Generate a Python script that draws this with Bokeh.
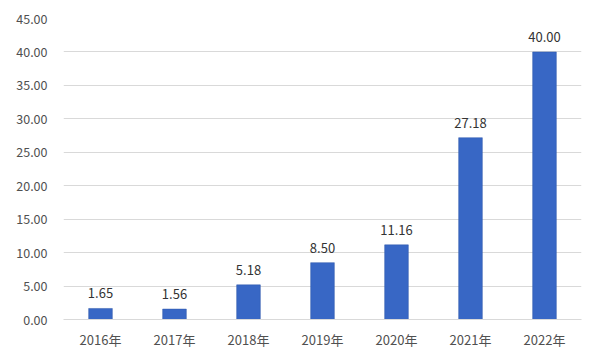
from bokeh.plotting import figure
from bokeh.models import ColumnDataSource, FactorRange, Range1d, FixedTicker, NumeralTickFormatter
from bokeh.core.properties import value
from bokeh.embed import file_html
from bokeh.resources import INLINE

years = ["2016年", "2017年", "2018年", "2019年", "2020年", "2021年", "2022年"]
amounts = [1.65, 1.56, 5.18, 8.50, 11.16, 27.18, 40.00]
y_ticks = [0, 5, 10, 15, 20, 25, 30, 35, 40, 45]

FONT = "Noto Sans CJK SC"

src = ColumnDataSource(dict(x=years, top=amounts, lbl=[f"{v:.2f}" for v in amounts]))

p = figure(width=600, height=360, output_backend="svg", toolbar_location=None,
           x_range=FactorRange(factors=years), y_range=Range1d(0, 45),
           min_border_left=63, min_border_right=19, min_border_top=18, min_border_bottom=41)
p.outline_line_color = None
p.background_fill_color = "white"
p.border_fill_color = "white"
p.styles = {"outline": "1px solid #E2E2E2", "outline-offset": "-3px"}

p.vbar(x="x", top="top", width=0.32, source=src, fill_color="#3867C5", line_color="#2F58AA", line_width=0.5)
p.text(x="x", y="top", text="lbl", source=src, text_align="center", text_baseline="bottom",
       y_offset=-10, text_font=value(FONT), text_font_size="13px", text_color="#333333")

p.xgrid.grid_line_color = None
p.ygrid.grid_line_color = "#D9D9D9"
p.ygrid.grid_line_width = 1

p.yaxis.ticker = FixedTicker(ticks=y_ticks)
p.yaxis.formatter = NumeralTickFormatter(format="0.00")
for ax in (p.xaxis[0], p.yaxis[0]):
    ax.axis_line_color = None
    ax.major_tick_line_color = None
    ax.minor_tick_line_color = None
    ax.major_tick_out = 0
    ax.major_tick_in = 0
    ax.minor_tick_out = 0
    ax.major_label_text_font = FONT
    ax.major_label_text_color = "#505050"
p.xaxis.major_label_text_font_size = "13px"
p.yaxis.major_label_text_font_size = "12.5px"
p.yaxis.major_label_standoff = 16
p.xaxis.major_label_standoff = 10
p.xaxis.axis_line_color = "#D9D9D9"

open("out.html", "w").write(file_html(p, INLINE))
